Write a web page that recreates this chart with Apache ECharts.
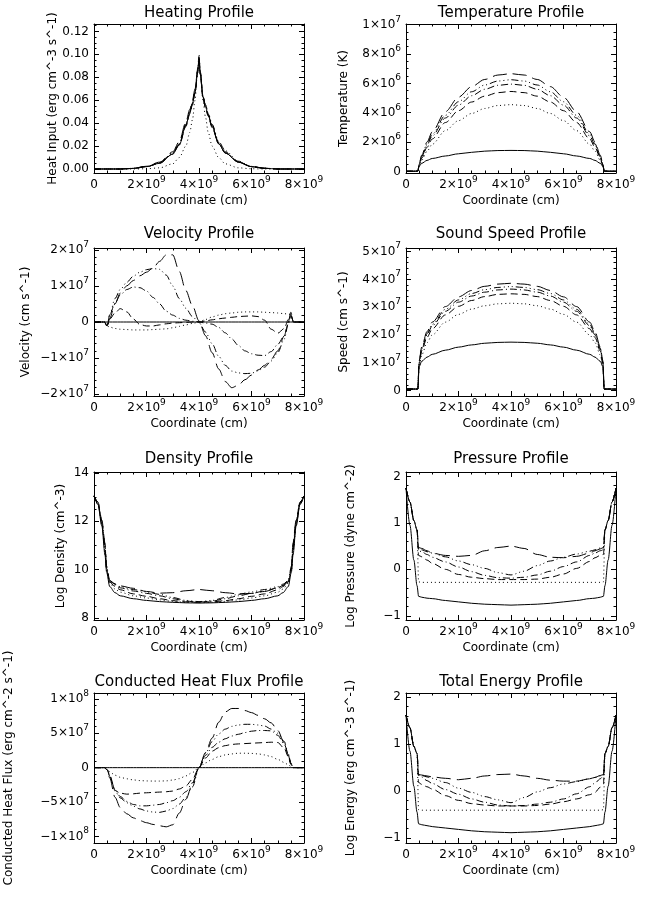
<!DOCTYPE html>
<html>
<head>
<meta charset="utf-8">
<script src="https://cdn.jsdelivr.net/npm/echarts@6/dist/echarts.min.js"></script>
<style>
html, body { margin: 0; padding: 0; background: #fff; }
#main { width: 656px; height: 899px; }
</style>
</head>
<body>
<div id="main"></div>
<script>
// coordinate along the loop, units of 1e9 cm
var xHeat = [0, 1, 1.5, 2, 2.5, 3, 3.25, 3.5, 3.65, 3.75, 3.85, 3.95, 4, 4.05, 4.15, 4.25, 4.35, 4.5, 4.75, 5, 5.5, 6, 6.5, 7, 8];
var xArch = [0, 0.3, 0.45, 0.5, 0.6, 0.8, 1, 1.5, 2, 2.5, 3, 3.5, 4, 4.5, 5, 5.5, 6, 6.5, 7, 7.2, 7.4, 7.5, 7.55, 7.7, 8];
var xFlow = [0, 0.4, 0.5, 0.6, 0.8, 1, 1.25, 1.5, 1.75, 2, 2.25, 2.5, 2.75, 3, 3.25, 3.5, 3.75, 4, 4.25, 4.5, 4.75, 5, 5.25, 5.5, 5.75, 6, 6.25, 6.5, 6.75, 7, 7.25, 7.4, 7.5, 7.6, 8];
var xLog = [0, 0.15, 0.3, 0.42, 0.48, 0.6, 0.8, 1, 1.5, 2, 2.5, 3, 3.5, 4, 4.5, 5, 5.5, 6, 6.5, 7, 7.2, 7.4, 7.52, 7.58, 7.7, 7.85, 8];

// heating (erg cm^-3 s^-1)
var heatSolid = [0, 0, 0.0005, 0.002, 0.005, 0.013, 0.021, 0.038, 0.049, 0.057, 0.067, 0.085, 0.096, 0.083, 0.063, 0.054, 0.047, 0.037, 0.022, 0.014, 0.006, 0.002, 0.0006, 0, 0];
var heatDot = [0, 0, 0, 0.0002, 0.001, 0.0045, 0.01, 0.02, 0.032, 0.043, 0.06, 0.088, 0.1, 0.085, 0.06, 0.045, 0.032, 0.02, 0.01, 0.0045, 0.001, 0.0002, 0, 0, 0];
var heatDash = [0, 0, 0.0005, 0.002, 0.005, 0.013, 0.021, 0.037, 0.048, 0.056, 0.066, 0.084, 0.094, 0.082, 0.062, 0.053, 0.046, 0.036, 0.022, 0.014, 0.006, 0.002, 0.0006, 0, 0];
var heatDashDot = [0, 0, 0.0005, 0.0021, 0.0052, 0.014, 0.022, 0.039, 0.05, 0.058, 0.068, 0.086, 0.097, 0.084, 0.064, 0.055, 0.048, 0.038, 0.023, 0.015, 0.0062, 0.0021, 0.0006, 0, 0];
var heatDdd = [0, 0, 0.0006, 0.0023, 0.0056, 0.014, 0.022, 0.038, 0.049, 0.057, 0.067, 0.084, 0.093, 0.082, 0.064, 0.056, 0.049, 0.039, 0.024, 0.016, 0.0068, 0.0023, 0.0007, 0, 0];
var heatLong = [0, 0, 0.0006, 0.0024, 0.006, 0.015, 0.024, 0.041, 0.052, 0.06, 0.07, 0.087, 0.098, 0.085, 0.063, 0.054, 0.047, 0.037, 0.022, 0.014, 0.006, 0.002, 0.0006, 0, 0];

// temperature (1e6 K)
var tempSolid = [0.01, 0.01, 0.02, 0.35, 0.55, 0.75, 0.88, 1.05, 1.2, 1.3, 1.38, 1.42, 1.43, 1.42, 1.38, 1.3, 1.2, 1.05, 0.88, 0.75, 0.55, 0.35, 0.02, 0.01, 0.01];
var tempDot = [0.01, 0.01, 0.02, 0.35, 0.76, 1.37, 1.85, 2.78, 3.46, 3.95, 4.29, 4.49, 4.55, 4.49, 4.29, 3.95, 3.46, 2.78, 1.85, 1.37, 0.76, 0.35, 0.02, 0.01, 0.01];
var tempDash = [0.01, 0.01, 0.02, 0.41, 0.90, 1.64, 2.21, 3.33, 4.14, 4.73, 5.13, 5.37, 5.45, 5.37, 5.13, 4.73, 4.14, 3.33, 2.21, 1.64, 0.90, 0.41, 0.02, 0.01, 0.01];
var tempDashDot = [0.01, 0.01, 0.02, 0.45, 0.99, 1.79, 2.42, 3.64, 4.52, 5.16, 5.60, 5.87, 5.95, 5.87, 5.60, 5.16, 4.52, 3.64, 2.42, 1.79, 0.99, 0.45, 0.02, 0.01, 0.01];
var tempDdd = [0.01, 0.01, 0.02, 0.48, 1.04, 1.88, 2.54, 3.82, 4.75, 5.43, 5.89, 6.16, 6.25, 6.16, 5.89, 5.43, 4.75, 3.82, 2.54, 1.88, 1.04, 0.48, 0.02, 0.01, 0.01];
var tempLong = [0.01, 0.01, 0.02, 0.51, 1.11, 2.0, 2.70, 4.07, 5.06, 5.78, 6.27, 6.57, 6.66, 6.57, 6.27, 5.78, 5.06, 4.07, 2.70, 2.0, 1.11, 0.51, 0.02, 0.01, 0.01];

// velocity (1e7 cm s^-1)
var velSolid = [0, 0, 0, 0, 0, 0, 0, 0, 0, 0, 0, 0, 0, 0, 0, 0, 0, 0, 0, 0, 0, 0, 0, 0, 0, 0, 0, 0, 0, 0, 0, 0, 0, 0, 0];
var velDot = [0, 0, -0.11, -0.14, -0.18, -0.2, -0.21, -0.22, -0.22, -0.22, -0.21, -0.2, -0.19, -0.16, -0.12, -0.08, -0.04, 0, 0.07, 0.14, 0.19, 0.23, 0.25, 0.27, 0.28, 0.28, 0.28, 0.27, 0.26, 0.25, 0.23, 0.22, 0.21, 0, 0];
var velDash = [0, 0, -0.1, 0.08, 0.25, 0.37, 0.28, 0.08, -0.07, -0.11, -0.11, -0.08, -0.05, -0.03, -0.02, -0.01, 0, 0, 0.03, 0.06, 0.09, 0.11, 0.13, 0.15, 0.16, 0.17, 0.15, 0.05, -0.2, -0.31, -0.18, 0.07, 0.2, 0, 0];
var velDashDot = [0, 0, -0.1, 0.2, 0.52, 0.75, 0.9, 0.97, 0.95, 0.86, 0.68, 0.5, 0.3, 0.19, 0.1, 0.05, 0.02, 0, -0.03, -0.06, -0.15, -0.3, -0.47, -0.65, -0.8, -0.88, -0.92, -0.93, -0.82, -0.62, -0.38, -0.05, 0.17, 0, 0];
var velDdd = [0, 0, -0.12, 0.2, 0.65, 0.9, 1.1, 1.27, 1.38, 1.45, 1.48, 1.46, 1.3, 1.0, 0.65, 0.38, 0.15, -0.02, -0.28, -0.6, -0.95, -1.2, -1.36, -1.41, -1.43, -1.42, -1.35, -1.25, -1.08, -0.85, -0.47, -0.05, 0.22, 0, 0];
var velLong = [0, 0, -0.15, 0.1, 0.5, 0.8, 1.0, 1.15, 1.28, 1.38, 1.5, 1.68, 1.86, 1.86, 1.4, 0.87, 0.45, 0.03, -0.38, -0.85, -1.3, -1.65, -1.82, -1.75, -1.6, -1.47, -1.33, -1.2, -1.03, -0.8, -0.38, 0.0, 0.27, 0, 0];

// sound speed (1e7 cm s^-1)
var speedSolid = [0.05, 0.05, 0.05, 0.86, 1.05, 1.2, 1.3, 1.45, 1.56, 1.64, 1.7, 1.73, 1.74, 1.73, 1.7, 1.64, 1.56, 1.45, 1.3, 1.2, 1.05, 0.86, 0.05, 0.05, 0.05];
var speedDot = [0.05, 0.05, 0.05, 0.87, 1.28, 1.72, 2.0, 2.46, 2.74, 2.93, 3.05, 3.12, 3.14, 3.12, 3.05, 2.93, 2.74, 2.46, 2.0, 1.72, 1.28, 0.87, 0.05, 0.05, 0.05];
var speedDash = [0.05, 0.05, 0.05, 0.96, 1.42, 1.91, 2.22, 2.72, 3.03, 3.24, 3.38, 3.46, 3.48, 3.46, 3.38, 3.24, 3.03, 2.72, 2.22, 1.91, 1.42, 0.96, 0.05, 0.05, 0.05];
var speedDashDot = [0.05, 0.05, 0.05, 1.01, 1.49, 2.0, 2.33, 2.85, 3.18, 3.40, 3.54, 3.62, 3.65, 3.62, 3.54, 3.40, 3.18, 2.85, 2.33, 2.0, 1.49, 1.01, 0.05, 0.05, 0.05];
var speedDdd = [0.05, 0.05, 0.05, 1.03, 1.52, 2.05, 2.38, 2.92, 3.26, 3.49, 3.63, 3.71, 3.74, 3.71, 3.63, 3.49, 3.26, 2.92, 2.38, 2.05, 1.52, 1.03, 0.05, 0.05, 0.05];
var speedLong = [0.05, 0.05, 0.05, 1.07, 1.57, 2.12, 2.46, 3.02, 3.37, 3.60, 3.75, 3.83, 3.86, 3.83, 3.75, 3.60, 3.37, 3.02, 2.46, 2.12, 1.57, 1.07, 0.05, 0.05, 0.05];

// log density (cm^-3)
var denSolid = [13.05, 12.7, 11.8, 10.6, 9.9, 9.3, 9.05, 8.92, 8.8, 8.73, 8.68, 8.65, 8.63, 8.62, 8.63, 8.65, 8.68, 8.73, 8.8, 8.92, 9.05, 9.3, 9.9, 10.6, 11.8, 12.7, 13.05];
var denDot = [13.05, 12.7, 11.85, 10.7, 9.95, 9.45, 9.2, 9.07, 8.92, 8.83, 8.75, 8.69, 8.65, 8.64, 8.65, 8.69, 8.75, 8.83, 8.92, 9.07, 9.2, 9.45, 9.95, 10.7, 11.85, 12.7, 13.05];
var denDash = [13.05, 12.75, 11.9, 10.8, 10.0, 9.5, 9.3, 9.17, 9.0, 8.9, 8.8, 8.72, 8.67, 8.65, 8.67, 8.72, 8.8, 8.9, 9.0, 9.17, 9.3, 9.5, 10.0, 10.8, 11.9, 12.75, 13.05];
var denDashDot = [13.05, 12.75, 11.95, 10.9, 10.05, 9.5, 9.35, 9.25, 9.12, 9.02, 8.92, 8.8, 8.7, 8.66, 8.7, 8.8, 8.92, 9.02, 9.12, 9.25, 9.35, 9.5, 10.05, 10.9, 11.95, 12.75, 13.05];
var denDdd = [13.05, 12.8, 12.0, 11.0, 10.1, 9.55, 9.4, 9.3, 9.18, 9.08, 8.98, 8.85, 8.73, 8.68, 8.73, 8.85, 8.98, 9.08, 9.18, 9.3, 9.4, 9.55, 10.1, 11.0, 12.0, 12.8, 13.05];
var denLong = [13.05, 12.8, 12.05, 11.1, 10.15, 9.55, 9.42, 9.33, 9.23, 9.1, 9.03, 9.05, 9.13, 9.18, 9.13, 9.05, 9.0, 9.02, 9.1, 9.25, 9.35, 9.5, 10.15, 11.1, 12.05, 12.8, 13.05];

// log pressure (dyne cm^-2)
var presSolid = [1.75, 0.95, 0.2, -0.35, -0.58, -0.6, -0.62, -0.63, -0.67, -0.7, -0.73, -0.75, -0.76, -0.77, -0.76, -0.75, -0.73, -0.7, -0.67, -0.63, -0.62, -0.6, -0.58, -0.35, 0.2, 0.95, 1.75];
var presDot = [1.75, 1.45, 1.05, 0.85, -0.27, -0.28, -0.28, -0.28, -0.28, -0.28, -0.28, -0.28, -0.28, -0.28, -0.28, -0.28, -0.28, -0.28, -0.28, -0.28, -0.28, -0.28, -0.27, 0.85, 1.05, 1.45, 1.75];
var presDash = [1.75, 1.45, 1.05, 0.85, 0.3, 0.27, 0.2, 0.13, 0.0, -0.11, -0.17, -0.2, -0.22, -0.22, -0.22, -0.21, -0.17, -0.1, 0.02, 0.17, 0.25, 0.3, 0.32, 0.85, 1.05, 1.45, 1.75];
var presDashDot = [1.75, 1.45, 1.05, 0.85, 0.4, 0.38, 0.32, 0.26, 0.16, 0.05, -0.05, -0.13, -0.18, -0.19, -0.17, -0.12, -0.04, 0.06, 0.16, 0.3, 0.35, 0.4, 0.42, 0.85, 1.05, 1.45, 1.75];
var presDdd = [1.75, 1.45, 1.05, 0.85, 0.43, 0.42, 0.38, 0.35, 0.27, 0.18, 0.1, 0.02, -0.07, -0.12, -0.04, 0.08, 0.18, 0.26, 0.33, 0.39, 0.42, 0.46, 0.48, 0.85, 1.05, 1.45, 1.75];
var presLong = [1.75, 1.45, 1.05, 0.85, 0.47, 0.45, 0.4, 0.35, 0.3, 0.28, 0.3, 0.4, 0.47, 0.5, 0.45, 0.32, 0.26, 0.25, 0.28, 0.35, 0.4, 0.44, 0.47, 0.85, 1.05, 1.45, 1.75];

// conducted heat flux (1e7 erg cm^-2 s^-1)
var fluxSolid = [0, 0, 0, 0, 0, 0, 0, 0, 0, 0, 0, 0, 0, 0, 0, 0, 0, 0, 0, 0, 0, 0, 0, 0, 0, 0, 0, 0, 0, 0, 0, 0, 0, 0, 0];
var fluxDot = [0, 0, -0.35, -0.6, -1.1, -1.4, -1.62, -1.78, -1.88, -1.93, -1.95, -1.95, -1.92, -1.8, -1.6, -1.2, -0.7, 0, 0.7, 1.2, 1.6, 1.85, 2.0, 2.1, 2.1, 2.07, 2.0, 1.85, 1.6, 1.2, 0.75, 0.4, 0.2, 0, 0];
var fluxDash = [0, 0, -0.3, -1.1, -3.3, -3.7, -3.85, -3.8, -3.7, -3.65, -3.6, -3.55, -3.5, -3.4, -3.1, -2.65, -1.7, 0, 1.4, 2.4, 2.9, 3.2, 3.38, 3.45, 3.5, 3.55, 3.6, 3.65, 3.7, 3.65, 2.8, 1.6, 0.5, 0, 0];
var fluxDashDot = [0, 0, -0.3, -1.2, -3.2, -4.2, -4.9, -5.35, -5.55, -5.55, -5.45, -5.35, -5.1, -4.8, -4.3, -3.5, -2.2, 0, 1.8, 2.95, 3.7, 4.2, 4.6, 4.85, 5.1, 5.3, 5.4, 5.4, 5.35, 4.7, 3.4, 2.0, 0.7, 0, 0];
var fluxDdd = [0, 0, -0.3, -1.3, -3.4, -4.4, -5.1, -5.6, -6.0, -6.3, -6.45, -6.5, -6.3, -5.95, -5.3, -4.3, -2.8, 0, 2.1, 3.8, 4.9, 5.6, 6.0, 6.2, 6.3, 6.3, 6.2, 6.05, 5.6, 5.0, 3.8, 2.0, 0.5, 0, 0];
var fluxLong = [0, 0, -0.3, -1.5, -4.3, -5.8, -6.7, -7.3, -7.7, -8.0, -8.25, -8.45, -8.6, -8.3, -6.6, -4.6, -2.4, 0, 2.2, 4.3, 6.6, 8.1, 8.6, 8.6, 8.3, 8.0, 7.6, 7.1, 6.5, 5.4, 3.6, 1.8, 0.6, 0, 0];

// log total energy (erg cm^-3)
var enSolid = [1.62, 0.85, 0.1, -0.45, -0.7, -0.72, -0.74, -0.76, -0.79, -0.82, -0.85, -0.87, -0.88, -0.89, -0.88, -0.87, -0.85, -0.82, -0.79, -0.76, -0.74, -0.72, -0.7, -0.45, 0.1, 0.85, 1.62];
var enDot = [1.62, 1.35, 0.95, 0.8, -0.4, -0.41, -0.41, -0.41, -0.41, -0.41, -0.41, -0.41, -0.41, -0.41, -0.41, -0.41, -0.41, -0.41, -0.41, -0.41, -0.41, -0.41, -0.4, 0.8, 0.95, 1.35, 1.62];
var enDash = [1.62, 1.35, 0.95, 0.8, 0.18, 0.14, 0.09, 0.04, -0.1, -0.2, -0.27, -0.3, -0.32, -0.32, -0.32, -0.31, -0.28, -0.23, -0.17, -0.08, -0.03, 0.08, 0.15, 0.8, 0.95, 1.35, 1.62];
var enDashDot = [1.62, 1.35, 0.95, 0.8, 0.33, 0.3, 0.22, 0.16, 0.03, -0.07, -0.17, -0.24, -0.3, -0.32, -0.31, -0.28, -0.24, -0.17, -0.06, 0.09, 0.17, 0.26, 0.32, 0.8, 0.95, 1.35, 1.62];
var enDdd = [1.62, 1.35, 0.95, 0.8, 0.34, 0.33, 0.3, 0.27, 0.18, 0.06, -0.03, -0.12, -0.19, -0.25, -0.14, -0.02, 0.07, 0.15, 0.2, 0.26, 0.29, 0.32, 0.34, 0.8, 0.95, 1.35, 1.62];
var enLong = [1.62, 1.35, 0.95, 0.8, 0.35, 0.34, 0.32, 0.3, 0.27, 0.24, 0.27, 0.32, 0.35, 0.36, 0.32, 0.27, 0.23, 0.21, 0.21, 0.26, 0.29, 0.33, 0.35, 0.8, 0.95, 1.35, 1.62];

var FONT = 'DejaVu Sans';
// IDL linestyles 0..5
var dashes = ['solid', [1, 3], [7, 4], [7, 3, 1, 3], [7, 3, 1, 3, 1, 3, 1, 3], [14, 6]];

function onStep(v, step) {
    var q = v / step;
    return Math.abs(q - Math.round(q)) < 1e-6;
}
function sciFmt(unitExp, step) {
    return function (v) {
        if (!onStep(v, step)) return '';
        if (Math.abs(v) < 1e-9) return '{b|0}';
        var m = Math.abs(v), e = unitExp;
        while (m >= 10 - 1e-9) { m /= 10; e++; }
        return '{b|' + (v < 0 ? '−' : '') + Math.round(m) + '×10}{s|' + e + '}';
    };
}
function plainFmt(step, digits) {
    return function (v) {
        if (!onStep(v, step)) return '';
        var t = digits ? v.toFixed(digits) : String(Math.round(v));
        return '{b|' + t.replace('-', '−') + '}';
    };
}
var rich = {
    b: {fontSize: 12, fontFamily: FONT, color: '#000', lineHeight: 20},
    s: {fontSize: 9, fontFamily: FONT, color: '#000', lineHeight: 10, verticalAlign: 'top'}
};

var colLeft = [94, 406];
var rows = [
    {top: 24, h: 149, title: 13},
    {top: 248, h: 148, title: 234},
    {top: 472, h: 148, title: 459},
    {top: 693, h: 150, title: 682}
];

var panels = [
    {title: 'Heating Profile', col: 0, row: 0, yName: 'Heat Input (erg cm^-3 s^-1)', yGap: 35,
        yMin: -0.0035, yMax: 0.1265, yStep: 0.02, yMinor: 4, yFmt: plainFmt(0.02, 2), xs: xHeat,
        lines: [heatSolid, heatDot, heatDash, heatDashDot, heatDdd, heatLong]},
    {title: 'Temperature Profile', col: 1, row: 0, yName: 'Temperature (K)', yGap: 56,
        yMin: -0.11, yMax: 10.05, yStep: 2, yMinor: 4, yFmt: sciFmt(6, 2), xs: xArch,
        lines: [tempSolid, tempDot, tempDash, tempDashDot, tempDdd, tempLong]},
    {title: 'Velocity Profile', col: 0, row: 1, yName: 'Velocity (cm s^-1)', yGap: 62,
        yMin: -2.05, yMax: 2.05, yStep: 1, yMinor: 5, yFmt: sciFmt(7, 1), xs: xFlow,
        lines: [velSolid, velDot, velDash, velDashDot, velDdd, velLong]},
    {title: 'Sound Speed Profile', col: 1, row: 1, yName: 'Speed (cm s^-1)', yGap: 56,
        yMin: -0.2, yMax: 5.13, yStep: 1, yMinor: 5, yFmt: sciFmt(7, 1), xs: xArch,
        lines: [speedSolid, speedDot, speedDash, speedDashDot, speedDdd, speedLong]},
    {title: 'Density Profile', col: 0, row: 2, yName: 'Log Density (cm^-3)', yGap: 27,
        yMin: 7.92, yMax: 14.04, yStep: 2, yMinor: 4, yFmt: plainFmt(2, 0), xs: xLog,
        lines: [denSolid, denDot, denDash, denDashDot, denDdd, denLong]},
    {title: 'Pressure Profile', col: 1, row: 2, yName: 'Log Pressure (dyne cm^-2)', yGap: 49,
        yMin: -1.09, yMax: 2.095, yStep: 1, yMinor: 5, yFmt: plainFmt(1, 0), xs: xLog,
        lines: [presSolid, presDot, presDash, presDashDot, presDdd, presLong]},
    {title: 'Conducted Heat Flux Profile', col: 0, row: 3, yName: 'Conducted Heat Flux (erg cm^-2 s^-1)', yGap: 79,
        yMin: -10.95, yMax: 10.85, yStep: 5, yMinor: 5, yFmt: sciFmt(7, 5), xs: xFlow,
        lines: [fluxSolid, fluxDot, fluxDash, fluxDashDot, fluxDdd, fluxLong]},
    {title: 'Total Energy Profile', col: 1, row: 3, yName: 'Log Energy (erg cm^-3 s^-1)', yGap: 49,
        yMin: -1.11, yMax: 2.09, yStep: 1, yMinor: 5, yFmt: plainFmt(1, 0), xs: xLog,
        lines: [enSolid, enDot, enDash, enDashDot, enDdd, enLong]}
];

var option = {
    backgroundColor: '#fff',
    animation: false,
    title: [], grid: [], xAxis: [], yAxis: [], series: []
};

var axisLine = {show: true, onZero: false, lineStyle: {color: '#000', width: 1}};

panels.forEach(function (p, i) {
    var left = colLeft[p.col], r = rows[p.row];
    option.grid.push({left: left, top: r.top, width: 210, height: r.h});
    option.title.push({
        text: p.title, left: left + 105, top: r.title, padding: 0,
        textAlign: 'center', textVerticalAlign: 'middle',
        textStyle: {fontFamily: FONT, fontSize: 15, fontWeight: 'normal', color: '#000'}
    });
    ['bottom', 'top'].forEach(function (pos) {
        var bottom = pos === 'bottom';
        option.xAxis.push({
            type: 'value', gridIndex: i, position: pos,
            min: 0, max: 8, interval: 2,
            name: bottom ? 'Coordinate (cm)' : '', nameLocation: 'middle', nameGap: 22,
            nameTextStyle: {fontFamily: FONT, fontSize: 12, color: '#000'},
            axisLine: axisLine,
            axisTick: {show: true, inside: true, length: 5, lineStyle: {color: '#000'}},
            minorTick: {show: true, splitNumber: 4, length: 2.5, lineStyle: {color: '#000'}},
            splitLine: {show: false},
            axisLabel: {
                show: bottom, margin: 2, rich: rich,
                formatter: function (v) { return v === 0 ? '{b|0}' : '{b|' + v + '×10}{s|9}'; }
            }
        });
    });
    ['left', 'right'].forEach(function (pos) {
        var main = pos === 'left';
        option.yAxis.push({
            type: 'value', gridIndex: i, position: pos,
            min: p.yMin, max: p.yMax, splitNumber: 6,
            minInterval: p.yStep, maxInterval: p.yStep,
            name: main ? p.yName : '', nameLocation: 'middle', nameGap: p.yGap,
            nameTextStyle: {fontFamily: FONT, fontSize: 12, color: '#000'},
            axisLine: axisLine,
            axisTick: {show: true, inside: true, length: 5, lineStyle: {color: '#000'}},
            minorTick: {show: true, splitNumber: p.yMinor, length: 2.5, lineStyle: {color: '#000'}},
            splitLine: {show: false},
            axisLabel: {
                show: main, margin: 5, rich: rich,
                showMinLabel: false, showMaxLabel: false,
                formatter: p.yFmt
            }
        });
    });
    p.lines.forEach(function (ys, k) {
        option.series.push({
            type: 'line', xAxisIndex: 2 * i, yAxisIndex: 2 * i,
            data: p.xs.map(function (x, j) { return [x, ys[j]]; }),
            symbol: 'none', smooth: 0.3, smoothMonotone: 'x',
            lineStyle: {color: '#000', width: 1, type: dashes[k]}
        });
    });
});

var chart = echarts.init(document.getElementById('main'));
chart.setOption(option);
</script>
</body>
</html>
